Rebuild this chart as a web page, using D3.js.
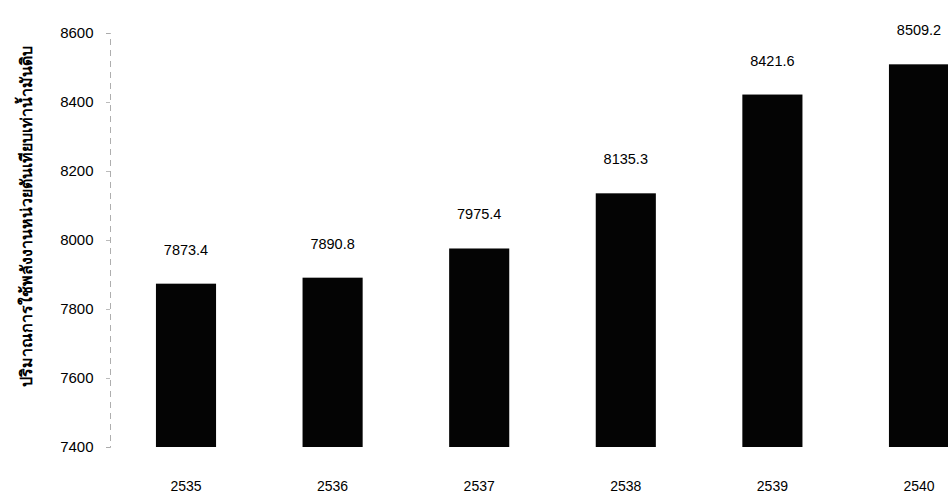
<!DOCTYPE html>
<html><head><meta charset="utf-8">
<script src="https://cdn.jsdelivr.net/npm/d3@7"></script>
<style>
html,body{margin:0;padding:0;background:#fff;}
svg{display:block;}
text{font-family:"Liberation Sans",Arial,sans-serif;}
</style></head>
<body>
<svg id="chart" width="948" height="494"></svg>
<script>
const categories = ["2535","2536","2537","2538","2539","2540"];
const values = [7873.4, 7890.8, 7975.4, 8135.3, 8421.6, 8509.2];
const yTicks = [7400, 7600, 7800, 8000, 8200, 8400, 8600];
const yTitle = "ปริมาณการใช้พลังงานหน่วยตันเทียบเท่าน้ำมันดิบ";

const svg = d3.select("#chart");
const y = d3.scaleLinear().domain([7400, 8600]).range([447, 33]);
const x = d3.scaleBand().domain(categories).range([112.7, 992.3])
  .paddingInner(0.59).paddingOuter(0.295);

// y axis
const yAxis = d3.axisLeft(y).tickValues(yTicks).tickSize(4).tickPadding(12.5).tickFormat(d3.format("d"));
const gy = svg.append("g").attr("transform","translate(110,0)").call(yAxis);
gy.select(".domain").attr("stroke","#999").attr("stroke-dasharray","6,5").attr("stroke-width",0.8);
gy.selectAll(".tick line").attr("stroke","#aaa").attr("stroke-width",0.8);
gy.selectAll(".tick text").attr("font-size","15px").attr("fill","#000")
  .attr("font-family","'Liberation Sans',Arial,sans-serif");

// bars
svg.append("g").selectAll("rect").data(values).join("rect")
  .attr("x",(d,i)=>x(categories[i]))
  .attr("width",x.bandwidth())
  .attr("y",d=>y(d))
  .attr("height",d=>y(7400)-y(d))
  .attr("fill","#040404");

// value labels
svg.append("g").selectAll("text").data(values).join("text")
  .attr("x",(d,i)=>x(categories[i])+x.bandwidth()/2)
  .attr("y",d=>y(d)-29)
  .attr("text-anchor","middle")
  .attr("font-size","14.5px")
  .text(d=>d.toFixed(1));

// category labels
svg.append("g").selectAll("text").data(categories).join("text")
  .attr("x",d=>x(d)+x.bandwidth()/2)
  .attr("y",491)
  .attr("text-anchor","middle")
  .attr("font-size","14px")
  .text(d=>d);

// y title
svg.append("text")
  .attr("transform","translate(32,216) rotate(-90)")
  .attr("text-anchor","middle")
  .attr("font-size","16px")
  .attr("font-weight","bold")
  .attr("font-family","'Noto Sans Thai','Noto Sans','DejaVu Sans',sans-serif")
  .text(yTitle);
</script>
</body></html>
